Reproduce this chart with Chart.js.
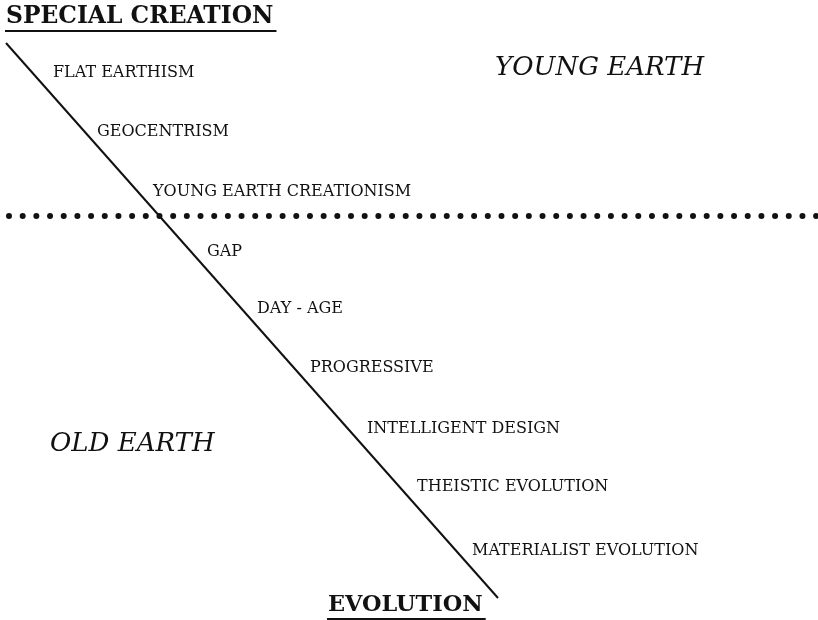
<!DOCTYPE html>
<html>
<head>
<meta charset="utf-8">
<script src="https://cdn.jsdelivr.net/npm/chart.js@4"></script>
<style>
  html, body { margin: 0; padding: 0; background: #fff; }
  #wrap { width: 818px; height: 620px; position: relative; }
</style>
</head>
<body>
<div id="wrap"><canvas id="spectrum"></canvas></div>
<script>
// positions along the creation / evolution spectrum
const positions = ['FLAT EARTHISM', 'GEOCENTRISM', 'YOUNG EARTH CREATIONISM', 'GAP', 'DAY - AGE',
    'PROGRESSIVE', 'INTELLIGENT DESIGN', 'THEISTIC EVOLUTION', 'MATERIALIST EVOLUTION'];
const positionX = [53, 97, 153, 207, 257, 310, 367, 417, 472];
const positionY = [77, 136, 196, 256, 313, 372, 433, 491, 555];

// the two regions split by the dotted boundary
const regions = ['YOUNG EARTH', 'OLD EARTH'];
const regionX = [495, 50];
const regionY = [75, 451];

// the two ends of the spectrum
const topPole = ['SPECIAL CREATION'];
const topPoleX = [6];
const topPoleY = [23];
const bottomPole = ['EVOLUTION'];
const bottomPoleX = [328];
const bottomPoleY = [611];

// the diagonal spectrum line and the dotted young/old boundary
const spectrumX = [6, 498];
const spectrumY = [43, 598];
const boundaryX = [9, 818];
const boundaryY = [216, 216];

const serif = "'DejaVu Serif', 'Liberation Serif', serif";

const labelPlugin = {
    id: 'labelPlugin',
    afterDatasetsDraw(chart) {
        const ctx = chart.ctx;
        chart.data.datasets.forEach((ds, i) => {
            if (!ds.textFont) return;
            const meta = chart.getDatasetMeta(i);
            meta.data.forEach((pt, j) => {
                const text = ds.data[j].label;
                ctx.save();
                ctx.font = ds.textFont;
                ctx.fillStyle = '#111';
                ctx.textAlign = 'left';
                ctx.textBaseline = 'alphabetic';
                ctx.fillText(text, pt.x, pt.y);
                if (ds.underline) {
                    const w = ctx.measureText(text).width;
                    ctx.fillRect(pt.x - 1, pt.y + 7, w + 4, 2);
                }
                ctx.restore();
            });
        });
    }
};

const toPoints = (xs, ys, labels) => xs.map((x, i) => ({ x: x, y: ys[i], label: labels ? labels[i] : '' }));

new Chart(document.getElementById('spectrum').getContext('2d'), {
    type: 'scatter',
    data: {
        datasets: [
            {
                data: toPoints(spectrumX, spectrumY),
                showLine: true,
                borderColor: '#111',
                borderWidth: 2,
                pointRadius: 0
            },
            {
                data: toPoints(boundaryX, boundaryY),
                showLine: true,
                borderColor: '#111',
                borderWidth: 6,
                borderDash: [0, 13.68],
                borderCapStyle: 'round',
                pointRadius: 0
            },
            {
                data: toPoints(positionX, positionY, positions),
                pointRadius: 0,
                textFont: '16px ' + serif
            },
            {
                data: toPoints(regionX, regionY, regions),
                pointRadius: 0,
                textFont: 'italic 26px ' + serif
            },
            {
                data: toPoints(topPoleX, topPoleY, topPole),
                pointRadius: 0,
                textFont: 'bold 23.4px ' + serif,
                underline: true
            },
            {
                data: toPoints(bottomPoleX, bottomPoleY, bottomPole),
                pointRadius: 0,
                textFont: 'bold 22.4px ' + serif,
                underline: true
            }
        ]
    },
    options: {
        responsive: true,
        maintainAspectRatio: false,
        animation: false,
        layout: { padding: 0 },
        plugins: { legend: { display: false }, tooltip: { enabled: false } },
        scales: {
            x: { type: 'linear', min: 0, max: 818, display: false },
            y: { type: 'linear', min: 0, max: 620, reverse: true, display: false }
        }
    },
    plugins: [labelPlugin]
});
</script>
</body>
</html>
